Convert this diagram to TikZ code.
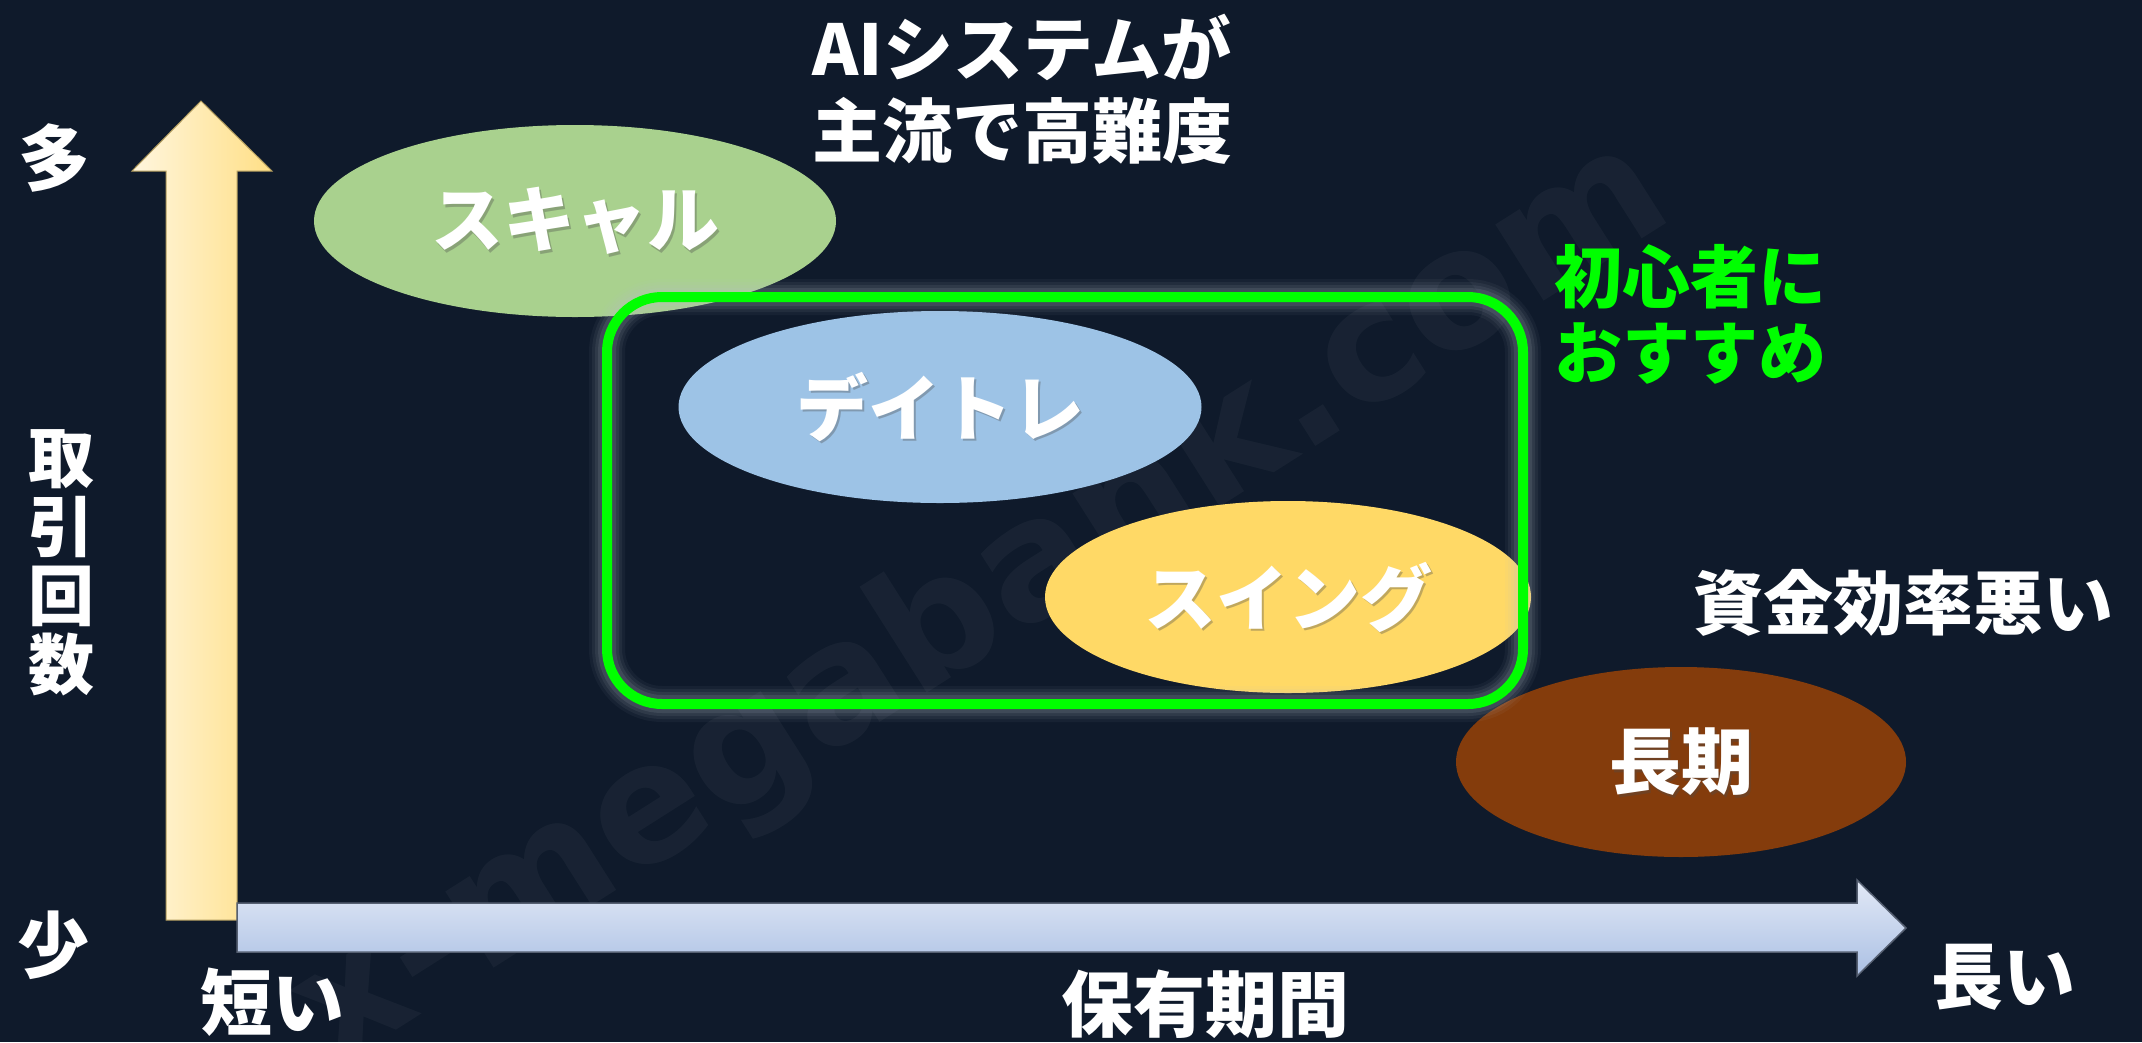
\documentclass[tikz,border=0pt]{standalone}
\usepackage{fontspec}
\setmainfont{Noto Sans CJK JP}
\newfontfamily\wmfont{DejaVu Sans}
\usetikzlibrary{shapes.geometric}
\definecolor{bg}{HTML}{0F1A2B}
\definecolor{scalpc}{HTML}{A9D18E}
\definecolor{dayc}{HTML}{9DC3E6}
\definecolor{swingc}{HTML}{FFD966}
\definecolor{longc}{HTML}{843C0C}
\definecolor{neon}{HTML}{00FF00}
\definecolor{halo}{HTML}{B8C0CC}
\definecolor{upA}{HTML}{FFF6DE}
\definecolor{upB}{HTML}{FFDF86}
\definecolor{rtA}{HTML}{E2E9F6}
\definecolor{rtB}{HTML}{ABC0E4}
\newcommand{\fsz}[1]{\fontsize{#1}{#1}\selectfont}
\tikzset{
  lbl/.style={text=white, font=\bfseries\fsz{72}},
  shad/.style={text=black!70, opacity=0.35, font=\bfseries\fsz{72}},
}
\begin{document}
\begin{tikzpicture}[x=1pt,y=-1pt, every node/.style={inner sep=0pt, outer sep=0pt}]
\fill[bg] (0,0) rectangle (2142,1042);
\useasboundingbox (0,0) rectangle (2142,1042);

% watermark
\node[rotate=32.4, text=white, opacity=0.04, font=\wmfont\bfseries\fsz{165}] (wm) at (982,605) {x-megabank.com};

% axes arrows
\shade[left color=upA, right color=upB, draw=upB!70!black, line width=1pt]
  (166,920) -- (166,171) -- (132,171) -- (201,101) -- (272,171) -- (237,171) -- (237,920) -- cycle;
\shade[top color=rtA, bottom color=rtB, draw=rtB!50!black, line width=1.5pt]
  (237,903) -- (1857,903) -- (1857,880) -- (1906,928) -- (1857,976) -- (1857,952) -- (237,952) -- cycle;

% ellipses
\node[ellipse, fill=scalpc, minimum width=522pt, minimum height=192pt] (scalp) at (575,221) {};
\node[ellipse, fill=dayc, minimum width=523pt, minimum height=192pt] (day) at (940,407) {};
\node[ellipse, fill=swingc, minimum width=486pt, minimum height=192pt] (swing) at (1288,597) {};
\node[ellipse, fill=longc, minimum width=450pt, minimum height=190pt] (long) at (1681,762) {};

% glow + green frame
\foreach \w/\o in {36/0.05, 30/0.07, 24/0.09, 18/0.12} {
  \draw[halo, line width=\w pt, opacity=\o, rounded corners=55pt] (607,297) rectangle (1523,704);
}
\draw[neon, line width=10pt, rounded corners=55pt] (607,297) rectangle (1523,704);

% ellipse labels
\node[shad] at ([xshift=2.5pt,yshift=-2.5pt]scalp) {スキャル};
\node[lbl] (scalpT) at (scalp) {スキャル};
\node[shad] at ([xshift=2.5pt,yshift=-2.5pt]day) {デイトレ};
\node[lbl] (dayT) at (day) {デイトレ};
\node[shad] at ([xshift=2.5pt,yshift=-2.5pt]swing) {スイング};
\node[lbl] (swingT) at (swing) {スイング};
\node[shad] at ([xshift=2.5pt,yshift=-2.5pt]long) {長期};
\node[lbl] (longT) at (long) {長期};

% texts
\node[lbl, align=center, font=\bfseries\fontsize{70}{82}\selectfont] (title) at (1022,89) {AIシステムが\\主流で高難度};
\node[lbl, text=neon, align=left, anchor=west, font=\bfseries\fontsize{68}{76}\selectfont] (rec) at (1554,314) {初心者に\\おすすめ};
\node[lbl, font=\bfseries\fsz{70}] (eff) at (1903,603) {資金効率悪い};
\node[lbl] (many) at (54,158) {多};
\node[lbl] (few) at (53,945) {少};
\node[lbl, align=center, font=\bfseries\fontsize{66}{69}\selectfont] (freq) at (61,563) {取\\引\\回\\数};
\node[lbl] (short) at (272,1002) {短い};
\node[lbl] (hold) at (1205,1004) {保有期間};
\node[lbl] (longx) at (2003,977) {長い};
\end{tikzpicture}
\end{document}
